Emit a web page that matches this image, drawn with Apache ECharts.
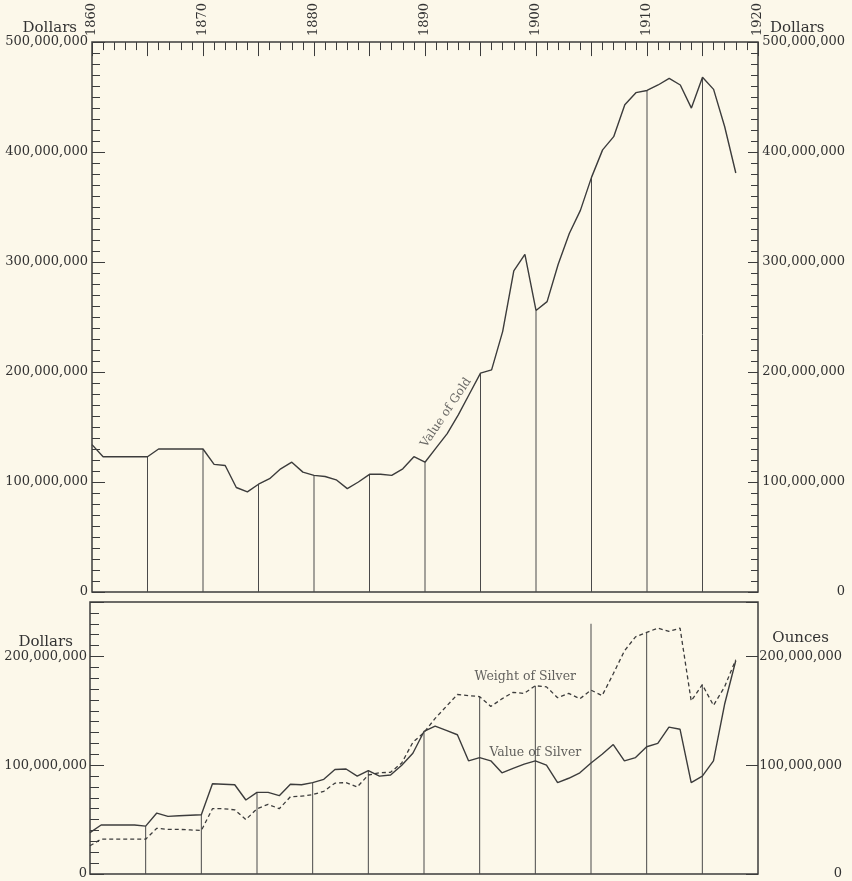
<!DOCTYPE html>
<html>
<head>
<meta charset="utf-8">
<script src="https://cdn.jsdelivr.net/npm/echarts@6/dist/echarts.min.js"></script>
<style>
  html, body { margin: 0; padding: 0; background: #fcf8ea; }
  #chart { width: 852px; height: 881px; }
</style>
</head>
<body>
<div id="chart"></div>
<script>
// World production of gold and silver, 1860-1918 (millions)
const years = [
  1860, 1861, 1862, 1863, 1864, 1865, 1866, 1867, 1868, 1869,
  1870, 1871, 1872, 1873, 1874, 1875, 1876, 1877, 1878, 1879,
  1880, 1881, 1882, 1883, 1884, 1885, 1886, 1887, 1888, 1889,
  1890, 1891, 1892, 1893, 1894, 1895, 1896, 1897, 1898, 1899,
  1900, 1901, 1902, 1903, 1904, 1905, 1906, 1907, 1908, 1909,
  1910, 1911, 1912, 1913, 1914, 1915, 1916, 1917, 1918
];

// Value of gold, millions of dollars
const goldValue = [
  134, 123, 123, 123, 123, 123, 130, 130, 130, 130,
  130, 116, 115, 95, 91, 98, 103, 112, 118, 109,
  106, 105, 102, 94, 100, 107, 107, 106, 112, 123,
  118, 131, 144, 161, 180, 199, 202, 237, 292, 307,
  256, 264, 298, 326, 347, 377, 402, 414, 443, 454,
  456, 461, 467, 461, 440, 468, 457, 423, 381
];

// Value of silver, millions of dollars
const silverValue = [
  38, 45, 45, 45, 45, 44, 56, 53, 53.5, 54,
  54.5, 83, 82.5, 82, 68, 75, 75, 72, 82.5, 82,
  84, 87, 96, 96.5, 90, 95, 90, 91, 100, 111,
  131, 136, 132, 128, 104, 107, 104, 93, 97, 101,
  104, 100, 84, 88, 93, 102, 110, 119, 104, 107,
  117, 120, 135, 133, 84, 90, 104, 156, 196
];

// Weight of silver, millions of ounces
const silverWeight = [
  26, 32, 32, 32, 32, 32, 42, 41, 41, 40.5,
  40, 60, 60, 59, 50, 60, 64, 60, 71, 71.5,
  73, 76, 83.5, 84, 80, 91, 93, 93.5, 102, 121,
  130, 143, 154, 165, 164, 163, 154, 161, 167, 166,
  173, 172, 162, 166, 161, 169, 164, 184, 205, 218,
  222, 226, 223, 226, 159, 174, 155, 172, 197
];

// Years carrying a vertical guide line
const guideYears = [1865, 1870, 1875, 1880, 1885, 1890, 1895, 1900, 1905, 1910, 1915];
// Guide in the silver panel that runs above the curves
const silverGuideExtended = { 1905: 230 };

const INK = '#3c3c3c';
const TEXT = '#333333';
const SERIF = 'DejaVu Serif';

const idx = y => years.indexOf(y);
const fmt = v => (v * 1e6).toLocaleString('en-US');

const goldGuides = guideYears.map(y => [y, goldValue[idx(y)]]);
const silverGuides = guideYears.map(y => [
  y,
  silverGuideExtended[y] !== undefined
    ? silverGuideExtended[y]
    : Math.max(silverValue[idx(y)], silverWeight[idx(y)])
]);

function guideLine(params, api) {
  const top = api.coord([api.value(0), api.value(1)]);
  const bottom = api.coord([api.value(0), 0]);
  return {
    type: 'line',
    shape: { x1: top[0], y1: top[1], x2: bottom[0], y2: bottom[1] },
    style: { stroke: '#4a4a4a', lineWidth: 1 }
  };
}

const tickStyle = { color: INK, width: 1 };
const labelBase = { color: TEXT, fontFamily: SERIF, fontSize: 13 };
const noLine = { show: false, onZero: false };

const chart = echarts.init(document.getElementById('chart'), null, { renderer: 'canvas' });

chart.setOption({
  animation: false,
  backgroundColor: '#fcf8ea',
  grid: [
    { left: 92, right: 94, top: 42, height: 550, show: true, borderColor: INK, borderWidth: 1.5, backgroundColor: 'transparent' },
    { left: 90, right: 94, top: 602, height: 272, show: true, borderColor: INK, borderWidth: 1.5, backgroundColor: 'transparent' }
  ],
  xAxis: [
    { // yearly ticks along the top
      gridIndex: 0, type: 'value', min: 1860, max: 1920, interval: 1, position: 'top',
      axisLine: noLine, splitLine: { show: false },
      axisTick: { show: true, inside: true, length: 8, lineStyle: tickStyle },
      axisLabel: { show: false }
    },
    { // five-year ticks and decade labels
      gridIndex: 0, type: 'value', min: 1860, max: 1920, interval: 5, position: 'top',
      axisLine: noLine, splitLine: { show: false },
      axisTick: { show: true, inside: true, length: 14, lineStyle: tickStyle },
      axisLabel: Object.assign({}, labelBase, {
        show: true, rotate: -90, margin: 6,
        formatter: v => (v % 10 === 0 ? String(v) : '')
      })
    },
    {
      gridIndex: 1, type: 'value', min: 1860, max: 1920, position: 'bottom',
      axisLine: noLine, splitLine: { show: false },
      axisTick: { show: false }, axisLabel: { show: false }
    }
  ],
  yAxis: [
    { // 0: gold, left minor ticks
      gridIndex: 0, type: 'value', min: 0, max: 500, interval: 10, position: 'left',
      axisLine: noLine, splitLine: { show: false },
      axisTick: { show: true, inside: true, length: 8, lineStyle: tickStyle },
      axisLabel: { show: false }
    },
    { // 1: gold, left major ticks and labels
      gridIndex: 0, type: 'value', min: 0, max: 500, interval: 100, position: 'left',
      axisLine: noLine, splitLine: { show: false },
      axisTick: { show: true, inside: true, length: 13, lineStyle: tickStyle },
      axisLabel: Object.assign({}, labelBase, { margin: 4, formatter: fmt }),
      name: 'Dollars', nameLocation: 'end', nameGap: 12,
      nameTextStyle: { color: TEXT, fontFamily: SERIF, fontSize: 15, align: 'right', verticalAlign: 'middle', padding: [0, 15, 0, 0] }
    },
    { // 2: gold, right minor ticks
      gridIndex: 0, type: 'value', min: 0, max: 500, interval: 10, position: 'right',
      axisLine: noLine, splitLine: { show: false },
      axisTick: { show: true, inside: true, length: 7, lineStyle: tickStyle },
      axisLabel: { show: false }
    },
    { // 3: gold, right major ticks and labels
      gridIndex: 0, type: 'value', min: 0, max: 500, interval: 100, position: 'right',
      axisLine: noLine, splitLine: { show: false },
      axisTick: { show: true, inside: true, length: 10, lineStyle: tickStyle },
      axisLabel: Object.assign({}, labelBase, { margin: 87, align: 'right', formatter: fmt }),
      name: 'Dollars', nameLocation: 'end', nameGap: 12,
      nameTextStyle: { color: TEXT, fontFamily: SERIF, fontSize: 15, align: 'left', verticalAlign: 'middle', padding: [0, 0, 0, 12] }
    },
    { // 4: silver, left minor ticks
      gridIndex: 1, type: 'value', min: 0, max: 250, interval: 10, position: 'left',
      axisLine: noLine, splitLine: { show: false },
      axisTick: { show: true, inside: true, length: 9, lineStyle: tickStyle },
      axisLabel: { show: false }
    },
    { // 5: silver value, left major ticks and labels
      gridIndex: 1, type: 'value', min: 0, max: 250, interval: 100, position: 'left',
      axisLine: noLine, splitLine: { show: false },
      axisTick: { show: true, inside: true, length: 14, lineStyle: tickStyle },
      axisLabel: Object.assign({}, labelBase, {
        margin: 3,
        formatter: v => {
          if (v % 100 !== 0) return '';
          if (v === 200) return '{u|Dollars}\n{n|' + fmt(v) + '}\n{u| }';
          return fmt(v);
        },
        rich: {
          u: { fontFamily: SERIF, fontSize: 15, color: TEXT, lineHeight: 14, align: 'center' },
          n: { fontFamily: SERIF, fontSize: 13, color: TEXT, lineHeight: 14 }
        }
      })
    },
    { // 6: silver weight, right ticks and labels
      gridIndex: 1, type: 'value', min: 0, max: 250, interval: 100, position: 'right',
      axisLine: noLine, splitLine: { show: false },
      axisTick: { show: true, inside: true, length: 12, lineStyle: tickStyle },
      axisLabel: Object.assign({}, labelBase, {
        margin: 84, align: 'right',
        formatter: v => {
          if (v % 100 !== 0) return '';
          if (v === 200) return '{u|Ounces}\n{n|' + fmt(v) + '}\n{u| }';
          return fmt(v);
        },
        rich: {
          u: { fontFamily: SERIF, fontSize: 15, color: TEXT, lineHeight: 22, align: 'center' },
          n: { fontFamily: SERIF, fontSize: 13, color: TEXT, lineHeight: 14 }
        }
      })
    }
  ],
  series: [
    {
      name: 'Gold guides', type: 'custom', xAxisIndex: 0, yAxisIndex: 1,
      renderItem: guideLine, data: goldGuides, silent: true, z: 1
    },
    {
      name: 'Value of Gold', type: 'line', xAxisIndex: 0, yAxisIndex: 1,
      data: years.map((y, i) => [y, goldValue[i]]),
      symbol: 'none', lineStyle: { color: INK, width: 1.4 }, z: 3
    },
    {
      name: 'Silver guides', type: 'custom', xAxisIndex: 2, yAxisIndex: 5,
      renderItem: guideLine, data: silverGuides, silent: true, z: 1
    },
    {
      name: 'Value of Silver', type: 'line', xAxisIndex: 2, yAxisIndex: 5,
      data: years.map((y, i) => [y, silverValue[i]]),
      symbol: 'none', lineStyle: { color: INK, width: 1.4 }, z: 3
    },
    {
      name: 'Weight of Silver', type: 'line', xAxisIndex: 2, yAxisIndex: 6,
      data: years.map((y, i) => [y, silverWeight[i]]),
      symbol: 'none', lineStyle: { color: INK, width: 1.3, type: [4, 3] }, z: 3
    },
    { // curve captions
      name: 'Captions', type: 'scatter', xAxisIndex: 0, yAxisIndex: 1, symbolSize: 0, silent: true,
      label: { show: true, position: 'inside', formatter: '{b}', color: '#444444', fontFamily: SERIF, fontSize: 12 },
      data: [{ name: 'Value of Gold', value: [1891.9, 163], label: { rotate: 56 } }]
    },
    {
      name: 'Silver captions', type: 'scatter', xAxisIndex: 2, yAxisIndex: 5, symbolSize: 0, silent: true,
      label: { show: true, position: 'inside', formatter: '{b}', color: '#3a3a3a', fontFamily: SERIF, fontSize: 12.5 },
      data: [
        { name: 'Weight of Silver', value: [1899.1, 181.5] },
        { name: 'Value of Silver', value: [1900.0, 111.5] }
      ]
    }
  ]
});
</script>
</body>
</html>
